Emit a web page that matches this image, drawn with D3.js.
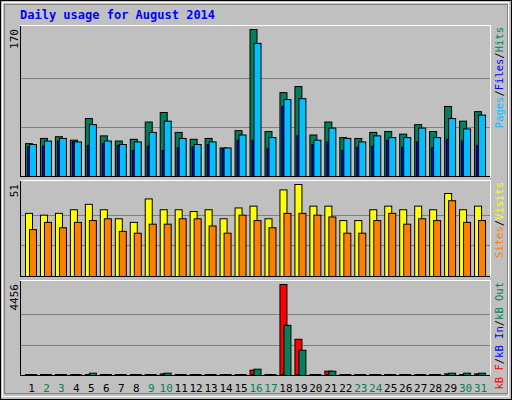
<!DOCTYPE html>
<html><head><meta charset="utf-8">
<script src="https://cdn.jsdelivr.net/npm/d3@7"></script>
<style>body{margin:0;background:#fff}svg{display:block}text{font-family:"DejaVu Sans Mono",monospace}</style>
</head><body><svg id="c" width="512" height="400"></svg>
<script>
const days=d3.range(1,32);
const weekend=[2,3,9,10,16,17,23,24,30,31];
const hits=[38,44,46,42,67,47,41,43,63,74,51,43,44,33,53,170,52,97,104,48,63,45,44,51,52,49,60,52,81,64,75];
const files=[37,41,44,40,60,41,37,40,51,64,44,37,40,33,48,154,45,89,90,42,56,44,40,47,45,45,56,45,67,55,71];
const pages=[34,35,41,40,36,38,36,30,35,30,33,34,37,32,42,42,32,81,47,37,40,30,34,35,42,34,40,33,43,41,36];
const visits=[35,34,35,37,40,37,32,30,43,37,37,36,37,32,38,39,32,48,51,39,39,31,31,37,39,37,39,37,46,37,39];
const sites=[26,30,27,30,31,32,25,24,29,29,32,32,28,24,34,31,27,35,35,34,33,24,24,31,35,29,32,31,42,30,31];
const kbF=[20,20,20,20,20,20,20,20,20,80,20,20,20,20,20,260,20,4456,1773,20,211,20,20,20,20,20,20,20,80,20,80];
const kbIn=days.map(()=>0);
const kbOut=[40,40,40,40,114,40,40,40,40,114,40,40,40,40,40,309,40,2456,1236,40,211,40,40,40,40,40,40,40,114,114,114];
const maxTop=170,maxMid=51,maxBot=4456;

const svg=d3.select("#c");
svg.append("rect").attr("x",0).attr("y",0).attr("width",512).attr("height",400).attr("fill","#c0c0c0");
svg.append("rect").attr("x",0.5).attr("y",0.5).attr("width",511).attr("height",399).attr("fill","none").attr("stroke","#000");
svg.append("rect").attr("x",2.5).attr("y",2.5).attr("width",506).attr("height",394).attr("fill","none").attr("stroke","#fff");
svg.append("rect").attr("x",4.5).attr("y",4.5).attr("width",503).attr("height",389).attr("fill","none").attr("stroke","#808080");
svg.append("text").attr("x",20).attr("y",19).attr("fill","#0000ff").attr("font-size",12).attr("font-weight","bold").text("Daily usage for August 2014");

const x=d3.scaleBand().domain(days).range([25,489]).paddingInner(0);
const bw=x.bandwidth();

function panel(y0,y1,max,label,series,rlabel){
  svg.append("rect").attr("x",20.5).attr("y",y0+0.5).attr("width",470).attr("height",y1-y0).attr("fill","#c0c0c0").attr("stroke","#000");
  svg.append("line").attr("x1",20).attr("x2",491).attr("y1",y0+0.5).attr("y2",y0+0.5).attr("stroke","#fff");
  svg.append("line").attr("x1",490.5).attr("x2",490.5).attr("y1",y0).attr("y2",y1+1).attr("stroke","#fff");
  const y=d3.scaleLinear().domain([0,max]).range([y1,y0+4]);
  [max/3,2*max/3].forEach(v=>svg.append("line").attr("x1",21).attr("x2",490).attr("y1",Math.round(y(v))+0.5).attr("y2",Math.round(y(v))+0.5).attr("stroke","#808080"));
  svg.append("text").attr("transform",`translate(18,${y0+4}) rotate(-90)`).attr("text-anchor","end").attr("font-size",11).text(label);
  series.forEach(s=>{
    svg.append("g").selectAll("rect").data(s.data).join("rect")
      .attr("x",(d,i)=>x(days[i])+s.off+0.5).attr("width",s.w)
      .attr("y",d=>Math.min(y(d),y1-1)+0.5).attr("height",d=>Math.max(1,y1-y(d)))
      .attr("fill",s.c).attr("stroke","#000");
  });
  const t=svg.append("text").attr("transform",`translate(503,${y0+2}) rotate(-90)`).attr("text-anchor","end").attr("font-size",10.5);
  rlabel.forEach(([s,c])=>t.append("tspan").attr("fill",c).text(s));
}
panel(25,176,maxTop,"170",[
  {data:hits,off:0,w:7,c:"#00805c"},
  {data:pages,off:2,w:3,c:"#0000ff"},
  {data:files,off:4,w:7,c:"#00c0ff"}],
  [["Pages","#00c0ff"],["/","#000"],["Files","#0000ff"],["/","#000"],["Hits","#00805c"]]);
panel(180,276,maxMid,"51",[
  {data:visits,off:0,w:7,c:"#ffff00"},
  {data:sites,off:4,w:7,c:"#ff8000"}],
  [["Sites","#ff8000"],["/","#000"],["Visits","#ffff00"]]);
panel(280,375,maxBot,"4456",[
  {data:kbF,off:0,w:7,c:"#ff0000"},
  {data:kbIn,off:2,w:3,c:"#0000ff"},
  {data:kbOut,off:4,w:7,c:"#00805c"}],
  [["kB F","#ff0000"],["/","#000"],["kB In","#0000ff"],["/","#000"],["kB Out","#00805c"]]);

svg.append("g").selectAll("text").data(days).join("text")
  .attr("x",d=>x(d)+bw/2-1).attr("y",392).attr("text-anchor","middle").attr("font-size",11)
  .attr("fill",d=>weekend.includes(d)?"#00805c":"#000").text(d=>d);
</script></body></html>
